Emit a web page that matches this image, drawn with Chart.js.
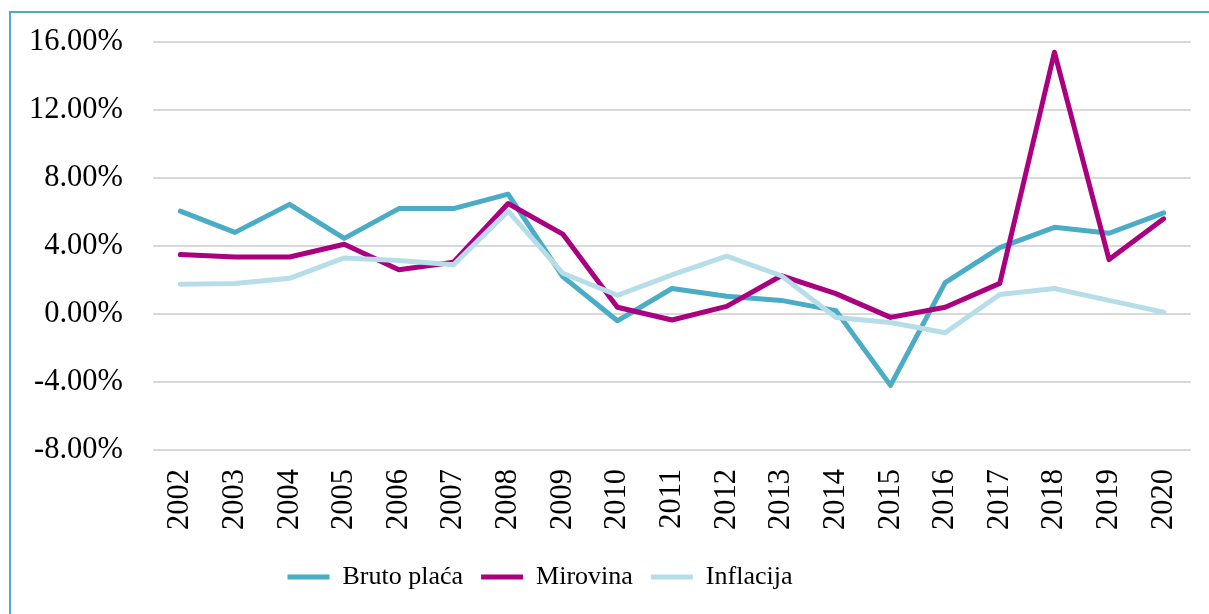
<!DOCTYPE html>
<html>
<head>
<meta charset="utf-8">
<script src="https://cdn.jsdelivr.net/npm/chart.js@4.4.1/dist/chart.umd.min.js"></script>
<style>
  html, body { margin: 0; padding: 0; background: #fff; overflow: hidden; }
  #frame {
    position: absolute; left: 9px; top: 11px; width: 1198px; height: 601px;
    border-left: 2px solid #4BACC6; border-top: 2px solid #4BACC6;
  }
  #wrap { position: absolute; left: 0; top: 0; width: 1209px; height: 614px; }
</style>
</head>
<body>
<div id="frame"></div>
<div id="wrap"><canvas id="chart"></canvas></div>
<script>
// Godine i godišnje stope (%)
const godine = ['2002', '2003', '2004', '2005', '2006', '2007', '2008', '2009', '2010', '2011',
                '2012', '2013', '2014', '2015', '2016', '2017', '2018', '2019', '2020'];

const brutoPlaca = [6.05, 4.8, 6.45, 4.45, 6.2, 6.2, 7.05, 2.2, -0.4, 1.5,
                    1.05, 0.8, 0.2, -4.2, 1.85, 3.9, 5.1, 4.75, 5.95];
const mirovina = [3.5, 3.35, 3.35, 4.1, 2.6, 3.05, 6.5, 4.7, 0.4, -0.35,
                  0.45, 2.25, 1.2, -0.2, 0.4, 1.8, 15.4, 3.2, 5.6];
const inflacija = [1.75, 1.8, 2.1, 3.3, 3.15, 2.9, 6.05, 2.4, 1.1, 2.3,
                   3.4, 2.25, -0.2, -0.5, -1.1, 1.15, 1.5, 0.8, 0.1];

const yTicks = [-8, -4, 0, 4, 8, 12, 16];

const FONT = '"Liberation Serif", "Times New Roman", serif';

// legenda u Excelu nije centrirana na platnu, pomaknemo je
const legendShift = {
    id: 'legendShift',
    afterLayout(chart) {
        const lg = chart.legend;
        const d = 540 - (lg.left + lg.right) / 2;
        lg.left += d;
        lg.right += d;
        lg.top -= 4;
        lg.bottom -= 4;
    }
};

function serija(label, data, color, order) {
    return {
        label: label,
        data: data,
        borderColor: color,
        backgroundColor: color,
        borderWidth: 5,
        borderCapStyle: 'round',
        borderJoinStyle: 'round',
        pointRadius: 0,
        pointHoverRadius: 0,
        tension: 0,
        fill: false,
        order: order
    };
}

new Chart(document.getElementById('chart').getContext('2d'), {
    type: 'line',
    data: {
        labels: godine,
        datasets: [
            serija('Bruto plaća', brutoPlaca, '#4BACC6', 3),
            serija('Mirovina', mirovina, '#AA0080', 2),
            serija('Inflacija', inflacija, '#B7DEE8', 1)
        ]
    },
    options: {
        responsive: true,
        maintainAspectRatio: false,
        animation: false,
        layout: { padding: { top: 42, left: 12, right: 18, bottom: 10 } },
        plugins: {
            tooltip: { enabled: false },
            legend: {
                position: 'bottom',
                labels: {
                    color: '#000',
                    font: { family: FONT, size: 26 },
                    usePointStyle: true,
                    pointStyle: 'line',
                    pointStyleWidth: 42,
                    padding: 18,
                    sort: (a, b) => a.datasetIndex - b.datasetIndex
                }
            }
        },
        scales: {
            x: {
                offset: true,
                grid: { display: false, drawTicks: false },
                border: { display: false },
                ticks: {
                    color: '#000',
                    font: { family: FONT, size: 30.5 },
                    minRotation: 90,
                    maxRotation: 90,
                    autoSkip: false,
                    padding: 19
                },
                afterFit: s => {
                    s.height = 100;
                    s.paddingLeft = 0;
                    s.paddingRight = 0;
                }
            },
            y: {
                min: -8,
                max: 16,
                afterBuildTicks: s => { s.ticks = yTicks.map(v => ({ value: v })); },
                grid: { color: '#D9D9D9', lineWidth: 2, drawTicks: false },
                border: { display: false },
                ticks: {
                    color: '#000',
                    font: { family: FONT, size: 30.5 },
                    padding: 30,
                    callback: v => v.toFixed(2) + '%'
                },
                afterFit: s => {
                    s.width = 141;
                    s.paddingTop = 0;
                    s.paddingBottom = 0;
                }
            }
        }
    },
    plugins: [legendShift]
});
</script>
</body>
</html>
